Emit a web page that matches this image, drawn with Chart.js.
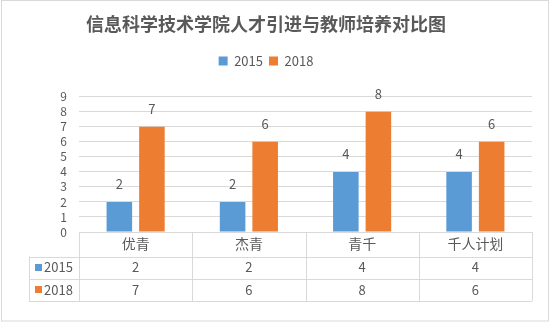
<!DOCTYPE html>
<html>
<head>
<meta charset="utf-8">
<style>
  html, body { margin: 0; padding: 0; background: #fff; }
  #wrap { width: 551px; height: 322px; }
</style>
<script src="https://cdn.jsdelivr.net/npm/chart.js@4"></script>
</head>
<body>
<div id="wrap"><canvas id="talentChart" width="551" height="322"></canvas></div>
<script>
// Chart data
const categories = ['优青', '杰青', '青千', '千人计划'];
const seriesNames = ['2015', '2018'];
const values2015 = [2, 2, 4, 4];
const values2018 = [7, 6, 8, 6];
const yTicks = [0, 1, 2, 3, 4, 5, 6, 7, 8, 9];

const BLUE = '#5B9BD5';
const ORANGE = '#ED7D31';
const GRID = '#D9D9D9';
const TEXT = '#595959';
const FONT = '"Noto Sans CJK SC", "Liberation Sans", sans-serif';

// White background + thin outer frame
const framePlugin = {
    id: 'frame',
    beforeDraw(chart) {
        const ctx = chart.ctx;
        ctx.save();
        ctx.fillStyle = '#fff';
        ctx.fillRect(0, 0, chart.width, chart.height);
        ctx.strokeStyle = GRID;
        ctx.lineWidth = 1;
        ctx.strokeRect(1.5, 0.5, chart.width - 4, chart.height - 1.5);
        ctx.restore();
    }
};

// Value labels above each bar
const barLabels = {
    id: 'barLabels',
    afterDatasetsDraw(chart) {
        const ctx = chart.ctx;
        ctx.save();
        ctx.font = '13px ' + FONT;
        ctx.fillStyle = TEXT;
        ctx.textAlign = 'center';
        ctx.textBaseline = 'middle';
        chart.data.datasets.forEach((ds, i) => {
            chart.getDatasetMeta(i).data.forEach((bar, j) => {
                ctx.fillText(String(ds.data[j]), bar.x, bar.y - 18);
            });
        });
        ctx.restore();
    }
};

// Data table under the category axis (Excel style)
const dataTable = {
    id: 'dataTable',
    afterDraw(chart) {
        const ctx = chart.ctx;
        const area = chart.chartArea;
        const x = chart.scales.x;
        const step = x.getPixelForValue(1) - x.getPixelForValue(0);
        const edges = categories.map((c, i) => x.getPixelForValue(i) - step / 2);
        edges.push(x.getPixelForValue(categories.length - 1) + step / 2);
        const tableLeft = 29;
        const rows = [area.bottom, area.bottom + 24.5, area.bottom + 46.5, area.bottom + 69];

        ctx.save();
        ctx.strokeStyle = GRID;
        ctx.lineWidth = 1;
        ctx.beginPath();
        ctx.moveTo(edges[0], Math.round(rows[0]) + 0.5);
        ctx.lineTo(edges[edges.length - 1], Math.round(rows[0]) + 0.5);
        for (let r = 1; r < rows.length; r++) {
            const y = Math.round(rows[r]) + 0.5;
            ctx.moveTo(tableLeft, y);
            ctx.lineTo(edges[edges.length - 1], y);
        }
        edges.forEach(e => {
            const xx = Math.round(e) + 0.5;
            ctx.moveTo(xx, rows[0]);
            ctx.lineTo(xx, rows[3]);
        });
        ctx.moveTo(tableLeft + 0.5, rows[1]);
        ctx.lineTo(tableLeft + 0.5, rows[3]);
        ctx.stroke();

        const series = [values2015, values2018];
        const colors = [BLUE, ORANGE];
        ctx.font = '13px ' + FONT;
        ctx.textBaseline = 'middle';
        series.forEach((vals, s) => {
            const cy = (rows[s + 1] + rows[s + 2]) / 2;
            ctx.fillStyle = colors[s];
            ctx.fillRect(35, Math.round(cy - 4), 7, 7);
            ctx.fillStyle = TEXT;
            ctx.textAlign = 'left';
            ctx.fillText(seriesNames[s], 44, cy);
            ctx.textAlign = 'center';
            vals.forEach((v, i) => ctx.fillText(String(v), x.getPixelForValue(i), cy));
        });
        ctx.restore();
    }
};

const ctx = document.getElementById('talentChart');
new Chart(ctx, {
    type: 'bar',
    data: {
        labels: categories,
        datasets: [
            { label: seriesNames[0], data: values2015, backgroundColor: BLUE },
            { label: seriesNames[1], data: values2018, backgroundColor: ORANGE }
        ]
    },
    options: {
        responsive: false,
        animation: false,
        layout: { padding: { left: 0, right: 19, top: 0, bottom: 0 } },
        datasets: {
            bar: { categoryPercentage: 0.575, barPercentage: 0.785 }
        },
        plugins: {
            title: {
                display: true,
                text: '信息科学技术学院人才引进与教师培养对比图',
                color: TEXT,
                font: { family: FONT, size: 18, weight: 'bold' },
                padding: { top: 13, bottom: 14 }
            },
            subtitle: {
                // empty spacer between legend and plot
                display: true,
                text: '',
                position: 'top',
                weight: 500,
                font: { size: 1 },
                padding: { top: 0, bottom: 18 }
            },
            legend: {
                position: 'top',
                labels: {
                    color: TEXT,
                    boxWidth: 9,
                    boxHeight: 9,
                    padding: 6,
                    font: { family: FONT, size: 13 }
                }
            },
            tooltip: { enabled: false }
        },
        scales: {
            x: {
                grid: { display: false, drawTicks: false },
                border: { display: false },
                ticks: {
                    color: TEXT,
                    padding: 3,
                    font: { family: FONT, size: 14 }
                },
                afterFit(scale) { scale.height = 90; }
            },
            y: {
                min: 0,
                max: yTicks[yTicks.length - 1],
                afterBuildTicks(scale) { scale.ticks = yTicks.map(v => ({ value: v })); },
                grid: { color: GRID, drawTicks: false },
                border: { display: false },
                ticks: {
                    color: TEXT,
                    padding: 12,
                    autoSkip: false,
                    font: { family: FONT, size: 12 }
                },
                afterFit(scale) { scale.width = 79; }
            }
        }
    },
    plugins: [framePlugin, barLabels, dataTable]
});
</script>
</body>
</html>
